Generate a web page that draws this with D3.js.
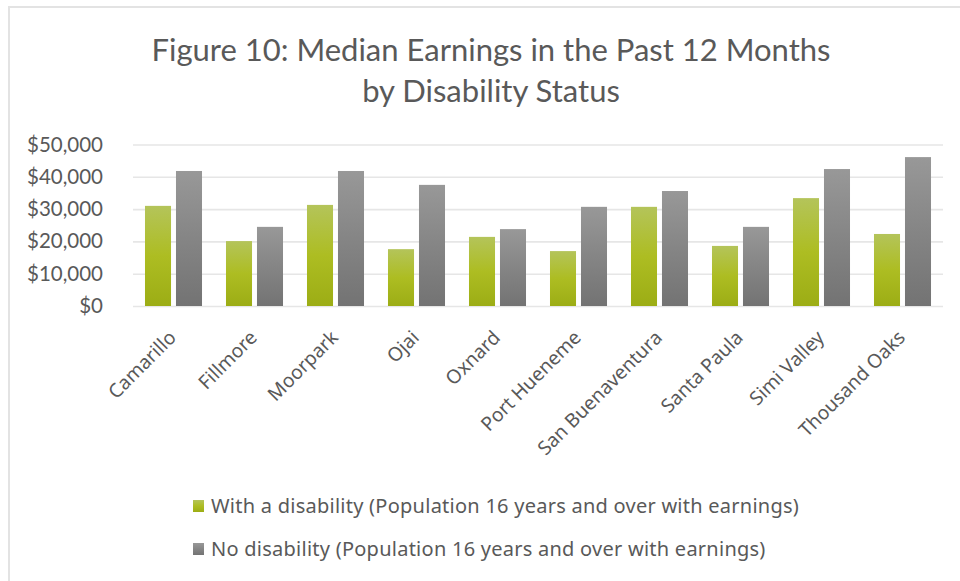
<!DOCTYPE html>
<html>
<head>
<meta charset="utf-8">
<script src="https://cdn.jsdelivr.net/npm/d3@7"></script>
<style>
  body { margin: 0; background: #fff; }
  svg text { fill: #595959; }
</style>
</head>
<body>
<div class="canvas"></div>
<script>
const cities = ["Camarillo", "Fillmore", "Moorpark", "Ojai", "Oxnard", "Port Hueneme",
  "San Buenaventura", "Santa Paula", "Simi Valley", "Thousand Oaks"];
const withDisability = [31000, 20100, 31300, 17600, 21400, 17000, 30700, 18600, 33400, 22300];
const noDisability = [41800, 24500, 41800, 37500, 23800, 30700, 35600, 24500, 42400, 46100];
const yTicks = [0, 10000, 20000, 30000, 40000, 50000];
const seriesNames = [
  "With a disability (Population 16 years and over with earnings)",
  "No disability (Population 16 years and over with earnings)",
];
const titleLines = ["Figure 10: Median Earnings in the Past 12 Months", "by Disability Status"];

const width = 960;
const height = 581;
const margin = { top: 144.5, right: 17, bottom: 275, left: 133 };

const svg = d3.select(".canvas").append("svg")
  .attr("width", width).attr("height", height);

const defs = svg.append("defs");
const grads = [
  { id: "gGreen", stops: ["#b4c45a", "#adbd22", "#9cad15"] },
  { id: "gGray", stops: ["#989898", "#858585", "#737373"] },
];
grads.forEach((g) => {
  const lg = defs.append("linearGradient").attr("id", g.id)
    .attr("x1", 0).attr("y1", 0).attr("x2", 0).attr("y2", 1);
  g.stops.forEach((c, i) => lg.append("stop").attr("offset", i / 2).attr("stop-color", c));
});
const fills = ["url(#gGreen)", "url(#gGray)"];

// chart frame
svg.append("rect").attr("x", 9).attr("y", 7).attr("width", 960).attr("height", 600)
  .attr("fill", "none").attr("stroke", "#e3e3e3").attr("stroke-width", 2);

svg.append("g").selectAll("text").data(titleLines).join("text")
  .attr("x", 491).attr("y", (d, i) => 61 + i * 41)
  .attr("text-anchor", "middle")
  .style("font-family", "Lato, sans-serif")
  .style("font-size", "31px")
  .text((d) => d);

const x = d3.scaleBand().domain(cities)
  .range([margin.left, width - margin.right])
  .paddingInner(0.296).paddingOuter(0.148);
const x1 = d3.scaleBand().domain([0, 1]).range([0, x.bandwidth()]).paddingInner(0.16);
const y = d3.scaleLinear().domain([0, 50000]).range([306, margin.top]);

const yAxis = d3.axisLeft(y).tickValues(yTicks)
  .tickSize(-(width - margin.right - margin.left))
  .tickPadding(30)
  .tickFormat((d) => "$" + d3.format(",")(d));

const gy = svg.append("g").attr("transform", `translate(${margin.left},0)`).call(yAxis);
gy.select(".domain").remove();
gy.selectAll(".tick line").attr("stroke", "#e6e6e6").attr("stroke-width", 1.6);
gy.selectAll(".tick text")
  .style("font-family", "Lato, sans-serif")
  .style("font-size", "20.5px")
  .attr("fill", "#595959");

const groups = svg.append("g").selectAll("g").data(cities).join("g")
  .attr("transform", (d) => `translate(${x(d)},0)`);

groups.selectAll("rect")
  .data((d, i) => [withDisability[i], noDisability[i]])
  .join("rect")
  .attr("x", (d, i) => x1(i))
  .attr("width", x1.bandwidth())
  .attr("y", (d) => y(d))
  .attr("height", (d) => y(0) - y(d))
  .attr("fill", (d, i) => fills[i]);

svg.append("g").selectAll("text").data(cities).join("text")
  .attr("transform", (d) => `translate(${x(d) + x.bandwidth() / 2 - 1},334) rotate(-45)`)
  .attr("text-anchor", "end")
  .attr("dy", "0.35em")
  .style("font-family", "'Noto Sans', sans-serif")
  .style("font-size", "19.3px")
  .text((d) => d);

const legend = svg.append("g").selectAll("g").data(seriesNames).join("g")
  .attr("transform", (d, i) => `translate(193,${506 + i * 43})`);
legend.append("rect").attr("x", 0).attr("y", -6).attr("width", 11).attr("height", 12)
  .attr("fill", (d, i) => fills[i]);
legend.append("text").attr("x", 18).attr("dy", "0.35em")
  .style("font-family", "'Noto Sans', sans-serif")
  .style("font-size", "20px")
  .style("letter-spacing", "0.25px")
  .text((d) => d);
</script>
</body>
</html>
